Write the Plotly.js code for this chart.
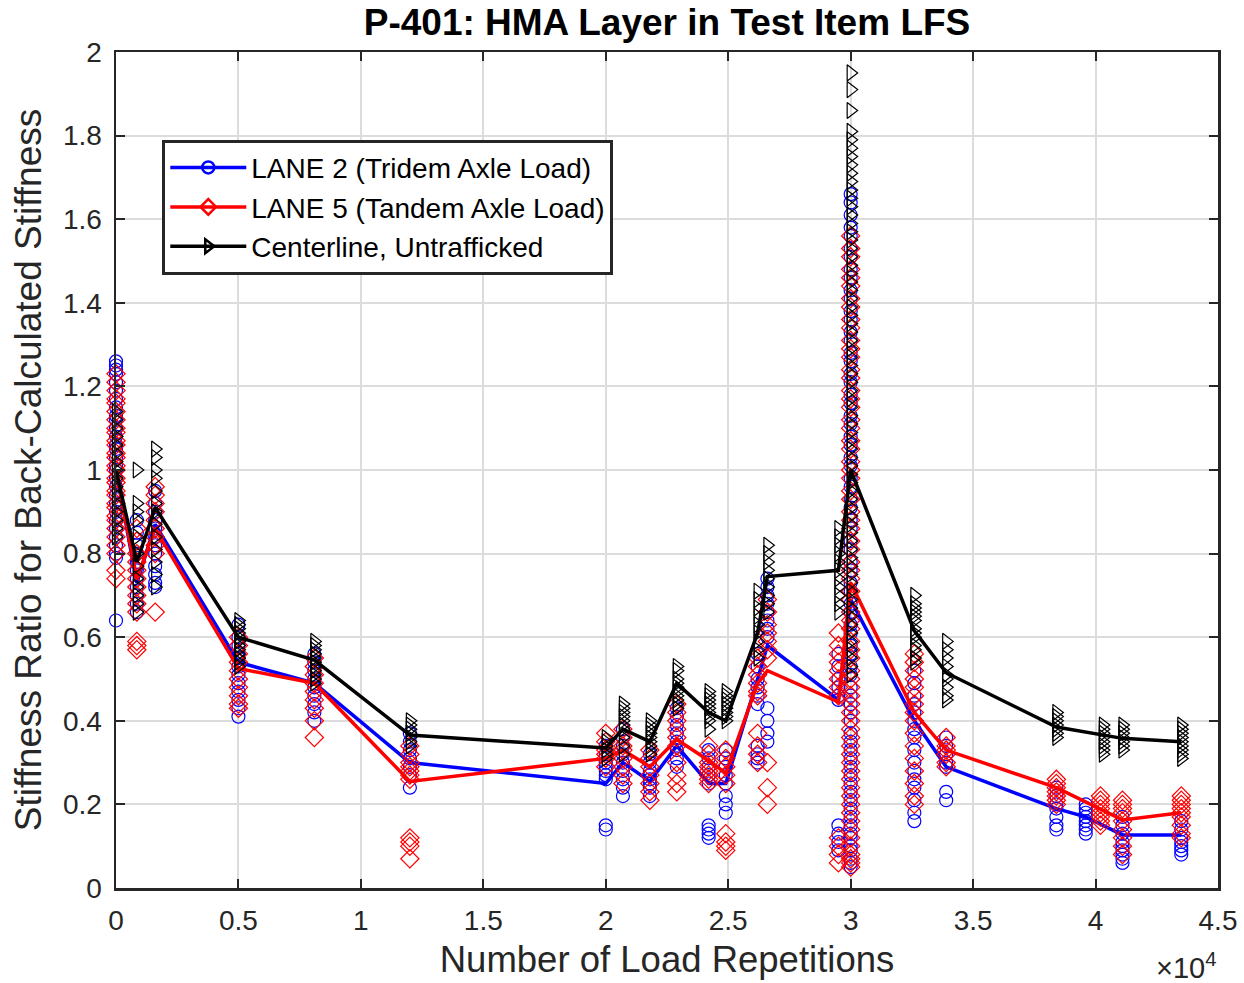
<!DOCTYPE html>
<html>
<head>
<meta charset="utf-8">
<script src="https://cdn.plot.ly/plotly-3.0.1.min.js"></script>
<style>html,body{margin:0;padding:0;background:#fff;}#chart{width:1244px;height:983px;}</style>
</head>
<body>
<div id="chart"></div>
<script>
// ---- Data ----
const seriesNames = ['LANE 2 (Tridem Axle Load)', 'LANE 5 (Tandem Axle Load)', 'Centerline, Untrafficked'];

const repsLane2  = [0, 850, 1600, 5000, 8100, 12000, 20000, 20700, 21800, 22900, 24200, 24900, 26200, 26600, 29500, 30000, 32600, 33900, 38400, 39600, 41100, 43500];
const repsLane5  = [0, 850, 1600, 5000, 8100, 12000, 20000, 20700, 21800, 22900, 24200, 24900, 26200, 26600, 29500, 30000, 32600, 33900, 38400, 40200, 41100, 43500];
const repsCenter = [0, 850, 1600, 5000, 8100, 12000, 20000, 20700, 21800, 22900, 24200, 24900, 26200, 26600, 29500, 30000, 32600, 33900, 38400, 40300, 41100, 43500];

const meanLane2  = [1.0, 0.73, 0.87, 0.54, 0.49, 0.30, 0.25, 0.30, 0.255, 0.34, 0.25, 0.25, 0.50, 0.58, 0.45, 0.69, 0.40, 0.29, 0.19, 0.17, 0.127, 0.127];
const meanLane5  = [1.0, 0.74, 0.86, 0.525, 0.49, 0.255, 0.31, 0.33, 0.29, 0.355, 0.305, 0.275, 0.49, 0.52, 0.445, 0.73, 0.42, 0.33, 0.24, 0.19, 0.163, 0.18];
const meanCenter = [1.0, 0.78, 0.91, 0.60, 0.545, 0.366, 0.335, 0.38, 0.35, 0.49, 0.42, 0.40, 0.61, 0.745, 0.76, 1.0, 0.615, 0.515, 0.385, 0.366, 0.358, 0.35];

const obsLane2 = [
  [1.26, 1.25, 1.24, 1.23, 1.21, 1.19, 1.17, 1.15, 1.13, 1.12, 1.10, 1.08, 1.06, 1.05, 1.03, 1.01, 1.00, 0.98, 0.96, 0.94, 0.92, 0.90, 0.88, 0.86, 0.84, 0.82, 0.80, 0.79, 0.64],
  [0.88, 0.85, 0.82, 0.80, 0.78, 0.76, 0.74, 0.72, 0.70, 0.68, 0.66],
  [0.95, 0.92, 0.90, 0.88, 0.86, 0.84, 0.82, 0.80, 0.77, 0.75, 0.73, 0.72],
  [0.63, 0.60, 0.58, 0.56, 0.55, 0.53, 0.51, 0.49, 0.47, 0.45, 0.43, 0.41],
  [0.56, 0.54, 0.52, 0.50, 0.48, 0.46, 0.44, 0.42, 0.40],
  [0.37, 0.35, 0.33, 0.31, 0.29, 0.27, 0.24],
  [0.34, 0.32, 0.30, 0.29, 0.28, 0.27, 0.26, 0.15, 0.14],
  [0.38, 0.36, 0.34, 0.32, 0.30, 0.28, 0.26, 0.24, 0.22],
  [0.32, 0.30, 0.28, 0.27, 0.26, 0.25, 0.24, 0.22],
  [0.43, 0.41, 0.39, 0.37, 0.35, 0.33, 0.31, 0.29],
  [0.33, 0.31, 0.29, 0.27, 0.25, 0.15, 0.14, 0.13, 0.12],
  [0.33, 0.31, 0.29, 0.27, 0.25, 0.22, 0.20, 0.18],
  [0.56, 0.53, 0.50, 0.48, 0.46, 0.44, 0.34, 0.32, 0.31, 0.30],
  [0.74, 0.72, 0.70, 0.68, 0.66, 0.64, 0.62, 0.60, 0.43, 0.40, 0.37, 0.35],
  [0.56, 0.53, 0.50, 0.48, 0.46, 0.45, 0.15, 0.13, 0.11, 0.09],
  [1.66, 1.64, 1.61, 1.58, 1.56, 1.53, 1.51, 1.48, 1.46, 1.43, 1.41, 1.38, 1.36, 1.33, 1.31, 1.28, 1.26, 1.23, 1.21, 1.18, 1.16, 1.13, 1.11, 1.08, 1.06, 1.03, 1.01, 0.98, 0.96, 0.93, 0.91, 0.88, 0.86, 0.83, 0.81, 0.78, 0.76, 0.73, 0.71, 0.68, 0.66, 0.63, 0.61, 0.58, 0.56, 0.53, 0.51, 0.48, 0.46, 0.44, 0.42, 0.40, 0.37, 0.35, 0.33, 0.31, 0.29, 0.27, 0.25, 0.23, 0.21, 0.19, 0.17, 0.15, 0.13, 0.12, 0.10, 0.09, 0.07, 0.06, 0.05],
  [0.52, 0.49, 0.46, 0.44, 0.42, 0.40, 0.38, 0.36, 0.33, 0.30, 0.28, 0.26, 0.24, 0.21, 0.18, 0.16],
  [0.36, 0.34, 0.32, 0.30, 0.29, 0.23, 0.21],
  [0.24, 0.22, 0.20, 0.19, 0.17, 0.15, 0.14],
  [0.20, 0.19, 0.18, 0.17, 0.16, 0.15, 0.14, 0.13],
  [0.17, 0.15, 0.13, 0.11, 0.10, 0.09, 0.08, 0.07, 0.06],
  [0.16, 0.14, 0.12, 0.11, 0.10, 0.09, 0.08]
];

const obsLane5 = [
  [1.23, 1.21, 1.19, 1.17, 1.16, 1.14, 1.12, 1.10, 1.09, 1.07, 1.06, 1.04, 1.03, 1.01, 1.00, 0.98, 0.97, 0.95, 0.94, 0.92, 0.91, 0.89, 0.88, 0.86, 0.84, 0.82, 0.80, 0.76, 0.74],
  [0.86, 0.83, 0.80, 0.78, 0.76, 0.74, 0.72, 0.70, 0.68, 0.66, 0.59, 0.58, 0.57],
  [0.96, 0.94, 0.92, 0.90, 0.88, 0.86, 0.84, 0.82, 0.80, 0.66],
  [0.60, 0.58, 0.56, 0.54, 0.52, 0.50, 0.48, 0.46, 0.44, 0.43],
  [0.55, 0.53, 0.51, 0.49, 0.47, 0.45, 0.43, 0.40, 0.36],
  [0.34, 0.32, 0.30, 0.29, 0.28, 0.27, 0.26, 0.12, 0.11, 0.10, 0.07],
  [0.37, 0.35, 0.33, 0.32, 0.31, 0.29],
  [0.38, 0.36, 0.34, 0.33, 0.31, 0.29, 0.27, 0.25],
  [0.33, 0.31, 0.29, 0.27, 0.25, 0.23, 0.21],
  [0.44, 0.42, 0.40, 0.38, 0.36, 0.34, 0.30, 0.27, 0.25, 0.23],
  [0.34, 0.32, 0.30, 0.29, 0.28, 0.27, 0.26, 0.25],
  [0.33, 0.31, 0.29, 0.27, 0.25, 0.13, 0.11, 0.10, 0.09],
  [0.55, 0.53, 0.51, 0.49, 0.47, 0.46, 0.37, 0.34, 0.32, 0.30],
  [0.69, 0.66, 0.63, 0.61, 0.59, 0.57, 0.55, 0.30, 0.24, 0.20],
  [0.61, 0.58, 0.56, 0.54, 0.52, 0.50, 0.48, 0.46, 0.12, 0.10, 0.08, 0.06],
  [1.56, 1.53, 1.51, 1.48, 1.46, 1.44, 1.41, 1.39, 1.36, 1.34, 1.31, 1.29, 1.27, 1.24, 1.22, 1.19, 1.17, 1.15, 1.12, 1.10, 1.07, 1.05, 1.02, 1.00, 0.98, 0.95, 0.93, 0.90, 0.88, 0.86, 0.83, 0.81, 0.78, 0.76, 0.74, 0.71, 0.69, 0.66, 0.64, 0.62, 0.59, 0.57, 0.55, 0.52, 0.50, 0.48, 0.46, 0.44, 0.42, 0.40, 0.38, 0.36, 0.34, 0.32, 0.30, 0.28, 0.26, 0.24, 0.22, 0.20, 0.18, 0.16, 0.14, 0.12, 0.10, 0.08, 0.07, 0.06, 0.05],
  [0.56, 0.54, 0.52, 0.50, 0.48, 0.46, 0.44, 0.42, 0.40, 0.37, 0.34, 0.31, 0.28, 0.25, 0.22, 0.20],
  [0.36, 0.34, 0.33, 0.32, 0.30, 0.29],
  [0.26, 0.25, 0.24, 0.23, 0.22, 0.21, 0.20],
  [0.22, 0.21, 0.20, 0.19, 0.18, 0.17, 0.16, 0.15],
  [0.21, 0.20, 0.19, 0.18, 0.16, 0.14, 0.12, 0.10, 0.08],
  [0.22, 0.21, 0.20, 0.19, 0.18, 0.17, 0.15, 0.13, 0.12]
];

const obsCenter = [
  [1.14, 1.12, 1.10, 1.08, 1.06, 1.04, 1.02, 1.00, 0.98, 0.96, 0.94, 0.92, 0.90, 0.88, 0.86, 0.84],
  [1.00, 0.92, 0.90, 0.88, 0.84, 0.80, 0.77, 0.74, 0.72, 0.70, 0.68, 0.66],
  [1.05, 1.03, 1.00, 0.98, 0.95, 0.92, 0.90, 0.87, 0.84, 0.81, 0.78, 0.75, 0.72],
  [0.64, 0.63, 0.62, 0.61, 0.60, 0.59, 0.58, 0.57, 0.56, 0.55, 0.54, 0.53],
  [0.59, 0.58, 0.57, 0.56, 0.55, 0.54, 0.53, 0.52, 0.51, 0.50, 0.49],
  [0.40, 0.39, 0.38, 0.37, 0.36, 0.35, 0.34],
  [0.36, 0.35, 0.34, 0.33, 0.32, 0.31],
  [0.44, 0.43, 0.42, 0.41, 0.40, 0.39, 0.38, 0.36, 0.34, 0.32],
  [0.40, 0.39, 0.38, 0.37, 0.36, 0.35, 0.34, 0.33, 0.32],
  [0.53, 0.52, 0.50, 0.49, 0.48, 0.47, 0.46, 0.45, 0.44, 0.43],
  [0.47, 0.46, 0.45, 0.44, 0.43, 0.42, 0.41, 0.40, 0.38],
  [0.47, 0.46, 0.45, 0.44, 0.43, 0.42, 0.41, 0.40],
  [0.71, 0.69, 0.67, 0.65, 0.63, 0.61, 0.59, 0.57, 0.55],
  [0.82, 0.80, 0.78, 0.76, 0.74, 0.72, 0.70, 0.68, 0.66],
  [0.86, 0.84, 0.82, 0.80, 0.78, 0.76, 0.74, 0.72, 0.70, 0.68, 0.66],
  [1.95, 1.91, 1.86, 1.81, 1.79, 1.77, 1.75, 1.73, 1.71, 1.69, 1.67, 1.65, 1.63, 1.61, 1.59, 1.57, 1.55, 1.53, 1.51, 1.49, 1.47, 1.45, 1.43, 1.41, 1.39, 1.37, 1.35, 1.33, 1.31, 1.29, 1.27, 1.25, 1.23, 1.21, 1.19, 1.17, 1.15, 1.13, 1.11, 1.09, 1.07, 1.05, 1.03, 1.01, 0.99, 0.97, 0.95, 0.93, 0.91, 0.89, 0.87, 0.85, 0.83, 0.81, 0.79, 0.77, 0.75, 0.73, 0.71, 0.69, 0.67, 0.65, 0.63, 0.61, 0.59, 0.57, 0.55, 0.53, 0.51],
  [0.70, 0.68, 0.67, 0.66, 0.65, 0.64, 0.62, 0.61, 0.60, 0.58, 0.57, 0.55, 0.54],
  [0.59, 0.57, 0.55, 0.53, 0.51, 0.50, 0.48, 0.46, 0.45],
  [0.42, 0.41, 0.40, 0.39, 0.38, 0.37, 0.36],
  [0.39, 0.38, 0.37, 0.36, 0.35, 0.34, 0.33, 0.32],
  [0.39, 0.38, 0.37, 0.36, 0.35, 0.34, 0.33],
  [0.39, 0.38, 0.37, 0.36, 0.35, 0.34, 0.33, 0.32, 0.31]
];

const xTickVals = [0, 5000, 10000, 15000, 20000, 25000, 30000, 35000, 40000, 45000];
const xTickText = ['0', '0.5', '1', '1.5', '2', '2.5', '3', '3.5', '4', '4.5'];
const yTickVals = [0, 0.2, 0.4, 0.6, 0.8, 1, 1.2, 1.4, 1.6, 1.8, 2];
const yTickText = ['0', '0.2', '0.4', '0.6', '0.8', '1', '1.2', '1.4', '1.6', '1.8', '2'];

// ---- Build traces ----
const FONT = 'Liberation Sans, Arial, Helvetica, sans-serif';
function flatten(reps, obs) {
  const xs = [], ys = [];
  obs.forEach((vals, i) => vals.forEach(v => { xs.push(reps[i]); ys.push(v); }));
  return {xs, ys};
}
const specs = [
  {reps: repsLane2, mean: meanLane2, obs: obsLane2, color: '#0000ff', symbol: 'circle-open', size: 13},
  {reps: repsLane5, mean: meanLane5, obs: obsLane5, color: '#ff0000', symbol: 'diamond-open', size: 14},
  {reps: repsCenter, mean: meanCenter, obs: obsCenter, color: '#000000', symbol: 'triangle-right-open', size: 14}
];
const traces = [];
specs.forEach((s, k) => {
  const f = flatten(s.reps, s.obs);
  traces.push({
    type: 'scatter', mode: 'markers', x: f.xs, y: f.ys, showlegend: false, cliponaxis: false,
    marker: {symbol: s.symbol, size: s.size, color: s.color, line: {color: s.color, width: 1.2}},
    hoverinfo: 'skip'
  });
  traces.push({
    type: 'scatter', mode: 'lines', x: s.reps, y: s.mean, showlegend: false, cliponaxis: false,
    line: {color: s.color, width: 3.5}
  });
});
specs.forEach((s, k) => {
  traces.push({
    type: 'scatter', mode: 'lines+markers', x: [null], y: [null], name: seriesNames[k],
    legendrank: k + 1,
    line: {color: s.color, width: 3.5},
    marker: {symbol: s.symbol, size: 12, color: s.color, line: {color: s.color, width: 2.5}}
  });
});

const axisCommon = {
  showline: true, linecolor: '#262626', linewidth: 2.5, mirror: 'ticks',
  ticks: 'inside', ticklen: 9, tickwidth: 2, tickcolor: '#262626',
  showgrid: true, gridcolor: '#dcdcdc', gridwidth: 2, zeroline: false,
  tickfont: {family: FONT, size: 28, color: '#262626'}, ticklabelstandoff: 6
};

const layout = {
  width: 1244, height: 983,
  paper_bgcolor: '#ffffff', plot_bgcolor: '#ffffff',
  margin: {l: 116, r: 26, t: 52, b: 95},
  title: {
    text: '<b>P-401: HMA Layer in Test Item LFS</b>',
    font: {family: FONT, size: 37, color: '#000000'},
    x: 0.5, xanchor: 'center', xref: 'paper', y: 0.978, yanchor: 'middle', yref: 'container'
  },
  xaxis: Object.assign({}, axisCommon, {
    range: [0, 45000], tickvals: xTickVals, ticktext: xTickText,
    title: {text: 'Number of Load Repetitions', font: {family: FONT, size: 36.5, color: '#262626'}, standoff: 12}
  }),
  yaxis: Object.assign({}, axisCommon, {
    range: [0, 2], tickvals: yTickVals, ticktext: yTickText,
    title: {text: 'Stiffness Ratio for Back-Calculated Stiffness', font: {family: FONT, size: 37, color: '#262626'}, standoff: 10}
  }),
  legend: {
    x: 0.042, y: 0.895, xanchor: 'left', yanchor: 'top',
    bgcolor: '#ffffff', bordercolor: '#262626', borderwidth: 3,
    font: {family: FONT, size: 28, color: '#000000'},
    traceorder: 'normal', itemwidth: 76, tracegroupgap: 0
  },
  annotations: [{
    text: '\u00d710<sup>4</sup>', xref: 'paper', yref: 'paper', x: 1.0, y: -0.093,
    xanchor: 'right', yanchor: 'middle', showarrow: false,
    font: {family: FONT, size: 29, color: '#262626'}
  }],
  showlegend: true
};

Plotly.newPlot('chart', traces, layout, {displayModeBar: false, staticPlot: true});
</script>
</body>
</html>
